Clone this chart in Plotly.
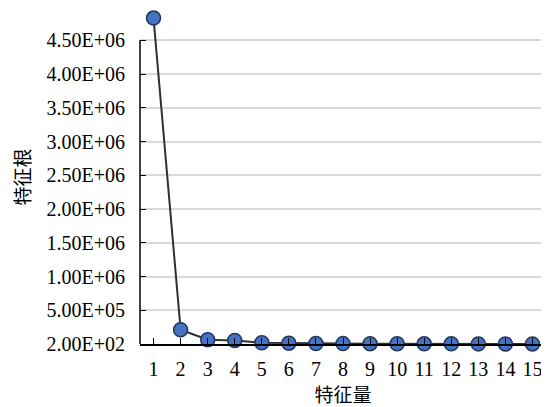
import plotly.graph_objects as go

features = list(range(1, 16))
eigenvalues = [4.83e6, 2.12e5, 6.4e4, 5.3e4, 1.9e4, 1.2e4, 8e3, 6e3, 5e3,
               4e3, 3e3, 2.5e3, 2e3, 1.5e3, 1e3]
y_tickvals = [200, 5e5, 1e6, 1.5e6, 2e6, 2.5e6, 3e6, 3.5e6, 4e6, 4.5e6]
y_ticktext = ["2.00E+02", "5.00E+05", "1.00E+06", "1.50E+06", "2.00E+06",
              "2.50E+06", "3.00E+06", "3.50E+06", "4.00E+06", "4.50E+06"]
x_tickvals = features + [15.5]
x_ticktext = [str(v) for v in features] + [""]
y_top = 4.5e6

serif = "Liberation Serif"
cjk = "Noto Sans CJK SC"

fig = go.Figure()
fig.add_trace(go.Scatter(
    x=features, y=eigenvalues, mode="lines+markers",
    line=dict(color="#303030", width=2),
    marker=dict(size=14, color="#4472C4", line=dict(color="#243654", width=1.5)),
    cliponaxis=False, showlegend=False,
))

# y axis line only up to the top tick
fig.add_shape(type="line", xref="paper", yref="y", x0=0, x1=0, y0=200, y1=y_top,
              line=dict(color="black", width=1.5), layer="above")

fig.update_layout(
    width=541, height=399,
    margin=dict(l=132, r=3, t=2, b=63, autoexpand=False),
    paper_bgcolor="white", plot_bgcolor="white",
    font=dict(family=serif, size=20, color="black"),
    xaxis=dict(
        range=[0.5, 15.5], tickmode="array", tickvals=x_tickvals, ticktext=x_ticktext,
        showgrid=False, zeroline=False, showline=True, linecolor="black", linewidth=1.5,
        ticks="inside", ticklen=6, tickcolor="black", tickwidth=1.2,
        ticklabelstandoff=6, tickfont=dict(family=serif, size=20),
        title=dict(text="特征量", font=dict(family=cjk, size=19), standoff=10),
        automargin=False, layer="above traces",
    ),
    yaxis=dict(
        range=[200, 4.95e6], tickmode="array", tickvals=y_tickvals, ticktext=y_ticktext,
        showgrid=True, gridcolor="#d9d9d9", gridwidth=1.5, zeroline=False,
        showline=False,
        ticks="inside", ticklen=6, tickcolor="black", tickwidth=1.2,
        ticklabelstandoff=14, tickfont=dict(family=serif, size=20),
        title=dict(text="特征根", font=dict(family=cjk, size=19), standoff=14),
        automargin=False,
    ),
)

fig.write_html("out.html")
